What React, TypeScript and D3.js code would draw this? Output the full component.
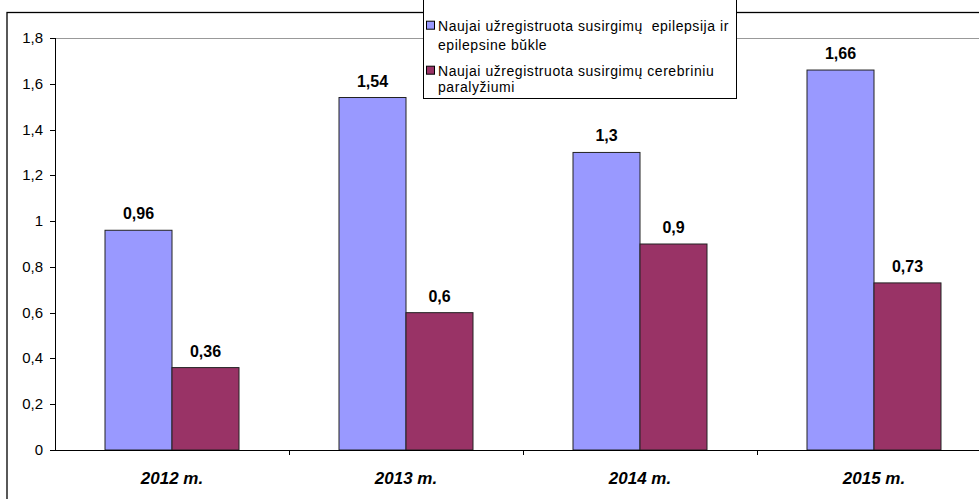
import * as d3 from "d3";

const categories = ["2012 m.", "2013 m.", "2014 m.", "2015 m."];
const seriesNames = [
  ["Naujai užregistruota susirgimų  epilepsija ir", "epilepsine bŭkle"],
  ["Naujai užregistruota susirgimų cerebriniu", "paralyžiumi"],
];
const epilepsy = [0.96, 1.54, 1.3, 1.66];
const cerebral = [0.36, 0.6, 0.9, 0.73];
const yTicks = [0, 0.2, 0.4, 0.6, 0.8, 1, 1.2, 1.4, 1.6, 1.8];
const colors = ["#9999ff", "#993366"];

const W = 979;
const H = 499;
const font = "'Liberation Sans', Arial, sans-serif";

const fmt = (v: number) => String(v).replace(".", ",");

export default function App() {
  const left = 55;
  const top = 38;
  const bottom = 450;
  const step = 234;
  const pi = 100 / 234;

  const x = d3
    .scaleBand<string>()
    .domain(categories)
    .range([left, left + step * categories.length])
    .paddingInner(pi)
    .paddingOuter(pi / 2);

  const y = d3.scaleLinear().domain([0, 1.8]).range([bottom, top]);

  const bw = x.bandwidth() / 2;
  const series = [epilepsy, cerebral];
  // legend line baselines per entry
  const legendLines = [
    [30.7, 49.5],
    [75.7, 91.5],
  ];

  return (
    <svg
      width={W}
      height={H}
      style={{ position: "absolute", left: 0, top: 0, background: "#fff" }}
      fontFamily={font}
    >
      <rect x={0} y={0} width={W} height={H} fill="#fff" />
      {/* outer frame */}
      <rect x={7} y={12.5} width={1100} height={600} fill="none" stroke="#000" strokeWidth={1.3} />

      {/* plot area top edge */}
      <line x1={left} x2={W + 20} y1={top + 0.5} y2={top + 0.5} stroke="#999" strokeWidth={1} />

      {/* bars */}
      {series.map((vals, si) =>
        vals.map((v, i) => {
          const bx = (x(categories[i]) as number) + si * bw;
          return (
            <g key={`${si}-${i}`}>
              <rect
                x={bx}
                y={y(v)}
                width={bw}
                height={bottom - y(v)}
                fill={colors[si]}
                stroke="#222"
                strokeWidth={1}
              />
              <text
                x={bx + bw / 2}
                y={y(v) - 11}
                textAnchor="middle"
                fontSize={16}
                fontWeight="bold"
                fill="#000"
              >
                {fmt(v)}
              </text>
            </g>
          );
        })
      )}

      {/* y axis */}
      <line x1={left + 0.5} x2={left + 0.5} y1={top} y2={bottom} stroke="#000" />
      {yTicks.map((t) => (
        <g key={t}>
          <line x1={left - 5} x2={left} y1={Math.round(y(t)) + 0.5} y2={Math.round(y(t)) + 0.5} stroke="#000" />
          <text x={left - 12} y={y(t) + 5} textAnchor="end" fontSize={15} fill="#000">
            {fmt(t)}
          </text>
        </g>
      ))}

      {/* x axis */}
      <line x1={left - 5} x2={W + 20} y1={bottom + 0.5} y2={bottom + 0.5} stroke="#000" />
      {categories.map((c, i) => (
        <g key={c}>
          <line
            x1={left + step * (i + 1) + 0.5}
            x2={left + step * (i + 1) + 0.5}
            y1={bottom}
            y2={bottom + 5}
            stroke="#000"
          />
          <text
            x={(x(c) as number) + x.bandwidth() / 2}
            y={483.5}
            textAnchor="middle"
            fontSize={17}
            fontWeight="bold"
            fontStyle="italic"
            fill="#000"
          >
            {c}
          </text>
        </g>
      ))}

      {/* legend */}
      <rect x={423.5} y={-2} width={313} height={100.5} fill="#fff" stroke="#000" strokeWidth={1} />
      {seriesNames.map((lines, si) => (
        <g key={si}>
          <rect
            x={426.5}
            y={legendLines[si][0] - 9.5}
            width={8}
            height={8}
            fill={colors[si]}
            stroke="#000"
            strokeWidth={1}
          />
          {lines.map((ln, li) => (
            <text
              key={li}
              x={438}
              y={legendLines[si][li]}
              fontSize={14}
              letterSpacing={0.55}
              fill="#000"
              style={{ whiteSpace: "pre" }}
            >
              {ln}
            </text>
          ))}
        </g>
      ))}
    </svg>
  );
}
